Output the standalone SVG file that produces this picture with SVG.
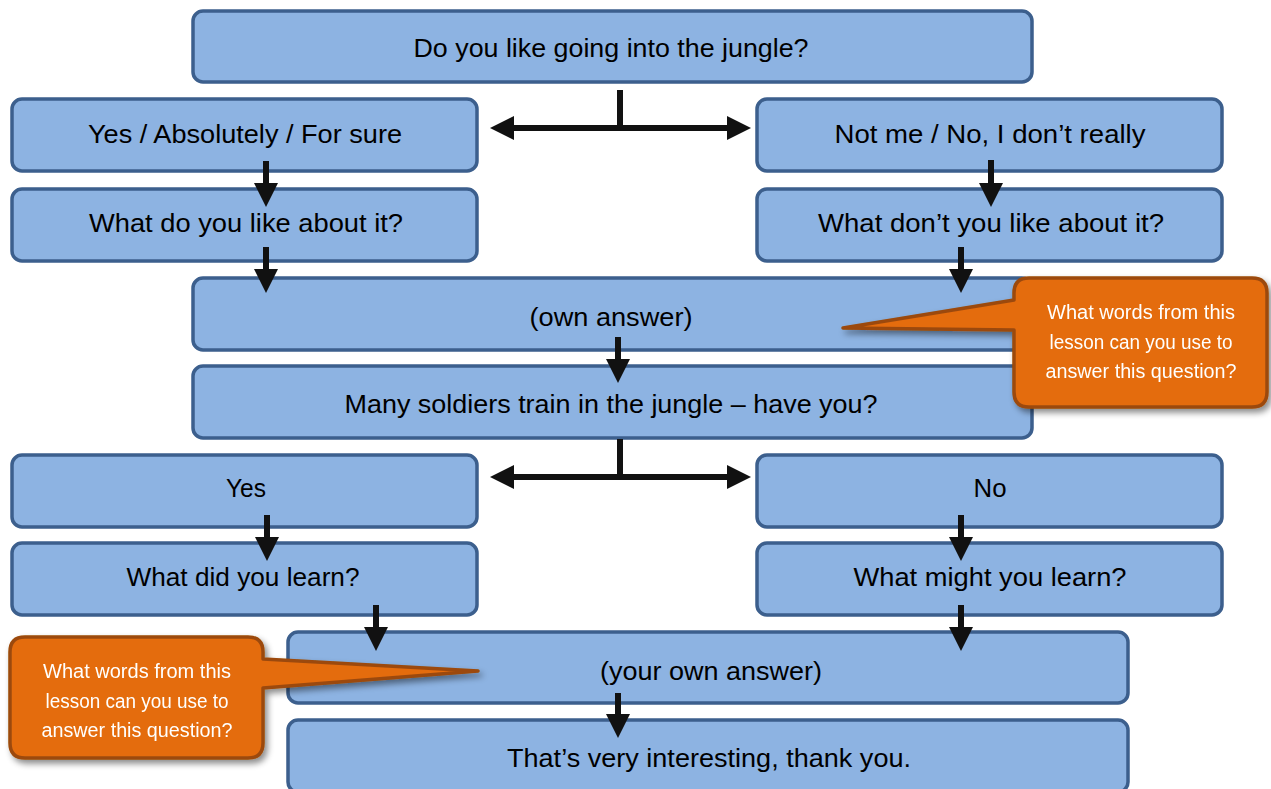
<svg xmlns="http://www.w3.org/2000/svg" width="1271" height="789" viewBox="0 0 1271 789">
<style>
.box{fill:#8db3e2;stroke:#3c5f8d;stroke-width:3.5}
.t{font-family:"Liberation Sans",Arial,sans-serif;font-size:26px;fill:#000;text-anchor:middle}
.ct{font-family:"Liberation Sans",Arial,sans-serif;font-size:20px;fill:#fff;text-anchor:middle}
.conn{stroke:#111;stroke-width:6;fill:none}
.call{fill:#e46c0a;stroke:#9c4a08;stroke-width:3.5;stroke-linejoin:round}
</style>
<defs>
<marker id="ah" markerUnits="userSpaceOnUse" markerWidth="24" markerHeight="24" refX="12" refY="12" orient="auto-start-reverse">
<path d="M0,0 L24,12 L0,24 Z" fill="#111"/>
</marker>
<filter id="sh" x="-10%" y="-10%" width="130%" height="130%">
<feDropShadow dx="3" dy="4" stdDeviation="3" flood-color="#000" flood-opacity="0.45"/>
</filter>
</defs>
<rect width="1271" height="789" fill="#fff"/>

<g id="n-top"><rect class="box" x="193" y="11" width="839" height="71" rx="10"/><text class="t" x="611" y="57" textLength="395" lengthAdjust="spacingAndGlyphs">Do you like going into the jungle?</text></g>
<g id="n-yes1"><rect class="box" x="12" y="99" width="465" height="72" rx="10"/><text class="t" x="245" y="143" textLength="314" lengthAdjust="spacingAndGlyphs">Yes / Absolutely / For sure</text></g>
<g id="n-no1"><rect class="box" x="757" y="99" width="465" height="72" rx="10"/><text class="t" x="990" y="143" textLength="311" lengthAdjust="spacingAndGlyphs">Not me / No, I don’t really</text></g>
<g id="n-like"><rect class="box" x="12" y="189" width="465" height="72" rx="10"/><text class="t" x="246" y="232" textLength="314" lengthAdjust="spacingAndGlyphs">What do you like about it?</text></g>
<g id="n-dislike"><rect class="box" x="757" y="189" width="465" height="72" rx="10"/><text class="t" x="991" y="232" textLength="346" lengthAdjust="spacingAndGlyphs">What don’t you like about it?</text></g>
<g id="n-own1"><rect class="box" x="193" y="278" width="839" height="72" rx="10"/><text class="t" x="611" y="326" textLength="163" lengthAdjust="spacingAndGlyphs">(own answer)</text></g>
<g id="n-soldiers"><rect class="box" x="193" y="366" width="839" height="72" rx="10"/><text class="t" x="611" y="413" textLength="533" lengthAdjust="spacingAndGlyphs">Many soldiers train in the jungle – have you?</text></g>
<g id="n-yes2"><rect class="box" x="12" y="455" width="465" height="72" rx="10"/><text class="t" x="246" y="497" textLength="40" lengthAdjust="spacingAndGlyphs">Yes</text></g>
<g id="n-no2"><rect class="box" x="757" y="455" width="465" height="72" rx="10"/><text class="t" x="990" y="497" textLength="33" lengthAdjust="spacingAndGlyphs">No</text></g>
<g id="n-learned"><rect class="box" x="12" y="543" width="465" height="72" rx="10"/><text class="t" x="243" y="586" textLength="233" lengthAdjust="spacingAndGlyphs">What did you learn?</text></g>
<g id="n-might"><rect class="box" x="757" y="543" width="465" height="72" rx="10"/><text class="t" x="990" y="586" textLength="273" lengthAdjust="spacingAndGlyphs">What might you learn?</text></g>
<g id="n-own2"><rect class="box" x="288" y="632" width="840" height="71" rx="10"/><text class="t" x="711" y="680" textLength="222" lengthAdjust="spacingAndGlyphs">(your own answer)</text></g>
<g id="n-thanks"><rect class="box" x="288" y="720" width="840" height="72" rx="10"/><text class="t" x="709" y="767" textLength="404" lengthAdjust="spacingAndGlyphs">That’s very interesting, thank you.</text></g>

<g id="connectors">
<line class="conn" x1="620" y1="90" x2="620" y2="131"/>
<path class="conn" d="M502,128 H739" marker-start="url(#ah)" marker-end="url(#ah)"/>
<line class="conn" x1="620" y1="439" x2="620" y2="480"/>
<path class="conn" d="M502,477 H739" marker-start="url(#ah)" marker-end="url(#ah)"/>
<line class="conn" x1="266" y1="161" x2="266" y2="195" marker-end="url(#ah)"/>
<line class="conn" x1="266" y1="247" x2="266" y2="281" marker-end="url(#ah)"/>
<line class="conn" x1="991" y1="160" x2="991" y2="195" marker-end="url(#ah)"/>
<line class="conn" x1="961" y1="247" x2="961" y2="281" marker-end="url(#ah)"/>
<line class="conn" x1="618" y1="337" x2="618" y2="371" marker-end="url(#ah)"/>
<line class="conn" x1="267" y1="515" x2="267" y2="549" marker-end="url(#ah)"/>
<line class="conn" x1="961" y1="515" x2="961" y2="549" marker-end="url(#ah)"/>
<line class="conn" x1="376" y1="605" x2="376" y2="639" marker-end="url(#ah)"/>
<line class="conn" x1="961" y1="605" x2="961" y2="639" marker-end="url(#ah)"/>
<line class="conn" x1="618" y1="693" x2="618" y2="726" marker-end="url(#ah)"/>
</g>

<g id="callout-right" filter="url(#sh)">
<path class="call" d="M1029,278 H1252 Q1267,278 1267,293 V392 Q1267,407 1252,407 H1029 Q1014,407 1014,392 V330 L843,328 L1014,300 V293 Q1014,278 1029,278 Z"/>
<text class="ct" x="1141" y="319" textLength="188" lengthAdjust="spacingAndGlyphs">What words from this</text>
<text class="ct" x="1141" y="349" textLength="183" lengthAdjust="spacingAndGlyphs">lesson can you use to</text>
<text class="ct" x="1141" y="378" textLength="191" lengthAdjust="spacingAndGlyphs">answer this question?</text>
</g>
<g id="callout-left" filter="url(#sh)">
<path class="call" d="M25,637 H248 Q263,637 263,652 V659 L478,671 L263,688 V743 Q263,758 248,758 H25 Q10,758 10,743 V652 Q10,637 25,637 Z"/>
<text class="ct" x="137" y="678" textLength="188" lengthAdjust="spacingAndGlyphs">What words from this</text>
<text class="ct" x="137" y="708" textLength="183" lengthAdjust="spacingAndGlyphs">lesson can you use to</text>
<text class="ct" x="137" y="737" textLength="191" lengthAdjust="spacingAndGlyphs">answer this question?</text>
</g>
</svg>
